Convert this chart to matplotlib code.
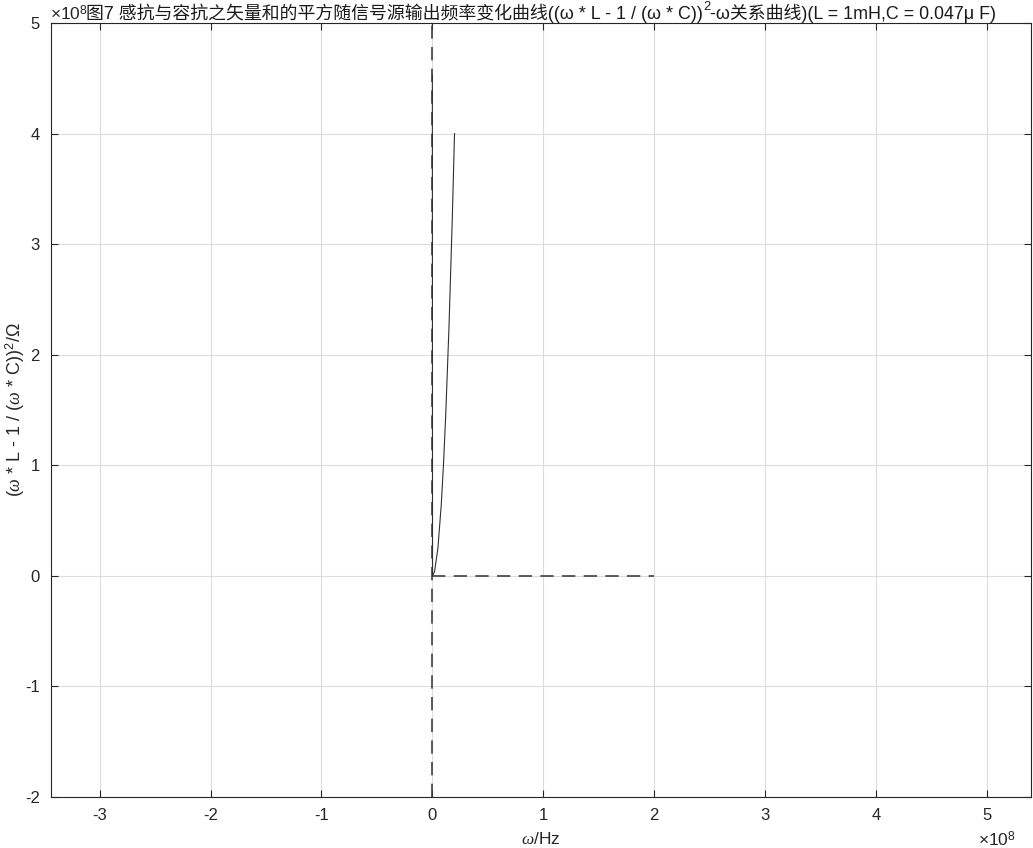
import matplotlib
matplotlib.use("Agg")
import matplotlib.pyplot as plt

plt.rcParams['font.family'] = ['Liberation Sans', 'Noto Sans CJK SC', 'DejaVu Sans']
plt.rcParams['mathtext.fontset'] = 'custom'
plt.rcParams['mathtext.rm'] = 'Liberation Sans'
plt.rcParams['mathtext.it'] = 'Liberation Serif:italic'
plt.rcParams['mathtext.bf'] = 'Liberation Sans:bold'

# omega (x 1e8 Hz) and (wL - 1/(wC))^2 (x 1e8 Ohm^2)
omega = [0.00001, 0.0015, 0.02, 0.05, 0.08, 0.10, 0.12, 0.15, 0.18, 0.20]
value = [4.53, 0.0, 0.04, 0.25, 0.64, 1.00, 1.44, 2.25, 3.24, 4.00]

xticks = [-3, -2, -1, 0, 1, 2, 3, 4, 5]
yticks = [-2, -1, 0, 1, 2, 3, 4, 5]
xlim = (-3.44, 5.40)
ylim = (-2, 5)
hline_x = [0, 2]

title_parts = ["图7 感抗与容抗之矢量和的平方随信号源输出频率变化曲线((ω * L - 1 / (ω * C))",
               "2",
               "-ω关系曲线)(L = 1mH,C = 0.047μ F)"]

W, H = 1033, 848
fig = plt.figure(figsize=(W/100, H/100), dpi=100)
ax = fig.add_axes([51/W, 1-797/H, (1031-51)/W, (797-23)/H])

ax.grid(True, color='#dcdcdc', linewidth=0.8)
ax.set_axisbelow(True)

ax.plot([0, 0], ylim, linestyle=(0, (8, 5)), color='#404040', linewidth=1.2)
ax.plot(hline_x, [0, 0], linestyle=(0, (8, 5)), color='#404040', linewidth=1.2)
ax.plot(omega, value, color='#303030', linewidth=0.8)

ax.set_xlim(*xlim)
ax.set_ylim(*ylim)
ax.set_xticks(xticks)
ax.set_yticks(yticks)
ax.set_xticklabels([str(t) for t in xticks])
ax.set_yticklabels([str(t) for t in yticks])
ax.tick_params(direction='in', top=True, right=True, labelsize=12, length=5,
               color='#262626', labelcolor='#262626', pad=8)
for s in ax.spines.values():
    s.set_color('#262626')
    s.set_linewidth(0.8)

ax.set_xlabel(r'$\omega$/Hz', fontsize=12.5, color='#262626')
ax.xaxis.set_label_coords((541-51)/(1031-51), -(831-797)/(797-23))
ax.set_ylabel(r'($\omega$ * L - 1 / ($\omega$ * C))$^2$/$\Omega$', fontsize=13, color='#262626')
ax.yaxis.set_label_coords(-(51-27)/(1031-51), (797-410)/(797-23))

# title drawn in pieces so the exponent can be a real superscript
renderer = fig.canvas.get_renderer()
fs = 12.9
ty = 1 - 13/H
pieces = []
t1 = fig.text(0, ty, title_parts[0], ha='left', va='center', fontsize=fs, color='#1a1a1a')
t2 = fig.text(0, ty + 6/H, title_parts[1], ha='left', va='center', fontsize=fs*0.72, color='#1a1a1a')
t3 = fig.text(0, ty, title_parts[2], ha='left', va='center', fontsize=fs, color='#1a1a1a')
ws = [t.get_window_extent(renderer).width for t in (t1, t2, t3)]
x0 = 541 - sum(ws)/2
for t, w in zip((t1, t2, t3), ws):
    t.set_x(x0/W)
    x0 += w

fig.text(50/W, 1-14/H, r'$\times10^{8}$', ha='left', va='center', fontsize=12.5, color='#262626')
fig.text(978/W, 1-840/H, r'$\times10^{8}$', ha='left', va='center', fontsize=12.5, color='#262626')

fig.savefig('out.png', dpi=100)
